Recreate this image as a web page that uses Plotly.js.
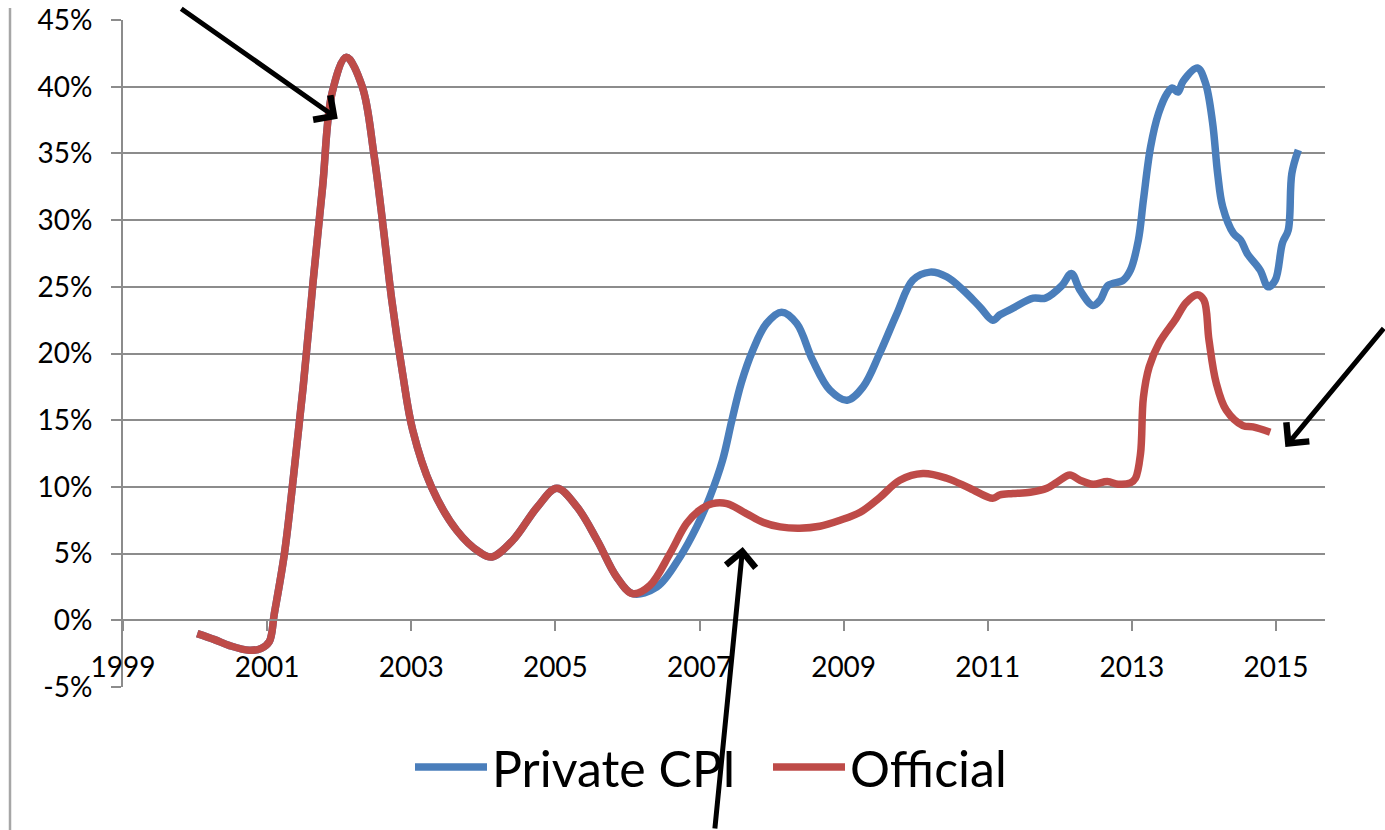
<!DOCTYPE html>
<html>
<head>
<meta charset="utf-8">
<script src="https://cdn.plot.ly/plotly-3.0.1.min.js"></script>
<style>
  html, body { margin: 0; padding: 0; background: #ffffff; }
  #chart { width: 1385px; height: 830px; }
</style>
</head>
<body>
<div id="chart"></div>
<script>
// Annual inflation, percent. Dates are decimal years.
const officialDates = [
  2000.03, 2000.27, 2000.48, 2000.75, 2000.92, 2001.03, 2001.10, 2001.24, 2001.36, 2001.50,
  2001.64, 2001.77, 2001.90, 2002.10, 2002.32, 2002.48, 2002.61, 2002.73, 2002.88, 2003.02,
  2003.28, 2003.63, 2003.95, 2004.12, 2004.41, 2004.75, 2005.02, 2005.30, 2005.58, 2005.85,
  2006.07, 2006.31, 2006.59, 2006.82, 2007.00, 2007.18, 2007.38, 2007.65, 2007.88, 2008.12,
  2008.39, 2008.67, 2008.95, 2009.23, 2009.50, 2009.78, 2010.10, 2010.43, 2010.75, 2011.07,
  2011.17, 2011.35, 2011.59, 2011.82, 2011.96, 2012.14, 2012.28, 2012.46, 2012.66, 2012.81,
  2012.98, 2013.05, 2013.12, 2013.16, 2013.24, 2013.38, 2013.61, 2013.75, 2013.91, 2014.00,
  2014.07, 2014.17, 2014.31, 2014.54, 2014.68, 2014.92
];
const officialValues = [
  -1.0, -1.45, -1.9, -2.25, -2.1, -1.6, 0.5, 5.0, 10.5, 17.5,
  25.5, 32.5, 39.5, 42.2, 40.0, 35.0, 29.5, 24.0, 18.5, 14.25,
  10.0, 6.75, 5.1, 4.75, 6.0, 8.5, 9.9, 8.5, 6.0, 3.25,
  2.0, 2.6, 5.0, 7.25, 8.25, 8.75, 8.75, 8.0, 7.35, 7.0,
  6.9, 7.05, 7.5, 8.1, 9.2, 10.5, 11.0, 10.65, 9.9, 9.15,
  9.4, 9.5, 9.6, 9.9, 10.35, 10.9, 10.5, 10.2, 10.4, 10.2,
  10.3, 10.65, 12.5, 16.7, 19.0, 20.8, 22.6, 23.8, 24.4, 24.0,
  21.0, 17.8, 15.75, 14.6, 14.5, 14.1
];

// The private index follows the official one until early 2006.
const privateDates = [
  2000.03, 2000.27, 2000.48, 2000.75, 2000.92, 2001.03, 2001.10, 2001.24, 2001.36, 2001.50,
  2001.64, 2001.77, 2001.90, 2002.10, 2002.32, 2002.48, 2002.61, 2002.73, 2002.88, 2003.02,
  2003.28, 2003.63, 2003.95, 2004.12, 2004.41, 2004.75, 2005.02, 2005.30, 2005.58, 2005.85,
  2006.07, 2006.41, 2006.73, 2006.96, 2007.14, 2007.32, 2007.45, 2007.58, 2007.74, 2007.93,
  2008.14, 2008.35, 2008.57, 2008.81, 2009.05, 2009.27, 2009.50, 2009.74, 2009.96, 2010.20,
  2010.43, 2010.66, 2010.89, 2011.07, 2011.17, 2011.35, 2011.63, 2011.80, 2012.03, 2012.16,
  2012.28, 2012.46, 2012.56, 2012.67, 2012.88, 2012.98, 2013.09, 2013.16, 2013.26, 2013.37,
  2013.49, 2013.56, 2013.64, 2013.71, 2013.91, 2014.02, 2014.12, 2014.19, 2014.26, 2014.41,
  2014.51, 2014.60, 2014.78, 2014.89, 2014.99, 2015.09, 2015.17, 2015.22, 2015.31
];
const privateValues = [
  -1.0, -1.45, -1.9, -2.25, -2.1, -1.6, 0.5, 5.0, 10.5, 17.5,
  25.5, 32.5, 39.5, 42.2, 40.0, 35.0, 29.5, 24.0, 18.5, 14.25,
  10.0, 6.75, 5.1, 4.75, 6.0, 8.5, 9.9, 8.5, 6.0, 3.25,
  2.0, 2.5, 4.75, 7.0, 9.2, 12.0, 15.0, 17.8, 20.25, 22.25,
  23.1, 22.25, 19.5, 17.25, 16.5, 17.5, 20.0, 23.0, 25.5, 26.1,
  25.75, 24.75, 23.5, 22.5, 22.9, 23.4, 24.15, 24.15, 25.1, 26.0,
  24.75, 23.6, 24.0, 25.1, 25.5, 26.25, 28.5, 31.5, 35.5, 38.0,
  39.5, 39.9, 39.6, 40.4, 41.4, 40.3, 37.3, 33.5, 31.0, 29.0,
  28.5, 27.5, 26.25, 25.0, 25.5, 28.3, 29.25, 33.5, 35.25
];

const seriesNames = ['Private CPI', 'Official'];
const seriesColors = ['#4A7EBB', '#BE4B48'];

const yTickValues = [-5, 0, 5, 10, 15, 20, 25, 30, 35, 40, 45];
const xTickValues = [1999, 2001, 2003, 2005, 2007, 2009, 2011, 2013, 2015];

// Page geometry in pixels
const W = 1385, H = 830;
const M = { l: 123, r: 60, t: 20, b: 143 };
const plotW = W - M.l - M.r, plotH = H - M.t - M.b;
const px2paperX = px => (px - M.l) / plotW;
const px2paperY = py => (H - M.b - py) / plotH;

const gridGray = '#8C8C8C';
const font = 'Lato, "Open Sans", sans-serif';
const yMin = -5, yMax = 45;

const traces = [
  { x: privateDates, y: privateValues, name: seriesNames[0], type: 'scatter', mode: 'lines',
    line: { color: seriesColors[0], width: 7.5, shape: 'spline', smoothing: 1 } },
  { x: officialDates, y: officialValues, name: seriesNames[1], type: 'scatter', mode: 'lines',
    line: { color: seriesColors[1], width: 7.5, shape: 'spline', smoothing: 1 } }
];

// Pointer arrows: head at a data location, tail given as a pixel offset
const arrows = [
  { x: 2001.98, y: 37.6, ax: -158, ay: -111 },
  { x: 2015.13, y: 13.0, ax: 112, ay: -120 },
  { x: 2007.60, y: 5.5, ax: -28, ay: 292 }
];

const layout = {
  width: W, height: H,
  margin: M,
  paper_bgcolor: '#ffffff', plot_bgcolor: '#ffffff',
  font: { family: font, color: '#000000', size: 28 },
  showlegend: true,
  legend: {
    orientation: 'h', x: px2paperX(410), xanchor: 'left',
    y: px2paperY(767), yanchor: 'middle',
    font: { family: font, size: 50, color: '#000000' },
    bgcolor: 'rgba(0,0,0,0)', itemwidth: 72,
    entrywidth: 271, entrywidthmode: 'pixels'
  },
  xaxis: {
    range: [1999, 2015.68],
    anchor: 'free', position: (0 - yMin) / (yMax - yMin),
    tickvals: xTickValues, ticktext: xTickValues.map(String),
    showgrid: false, zeroline: false,
    showline: true, linecolor: gridGray, linewidth: 2,
    ticks: 'outside', ticklen: 10, tickwidth: 2, tickcolor: gridGray,
    ticklabelstandoff: 12,
    tickfont: { family: font, size: 28, color: '#000000' }
  },
  yaxis: {
    range: [yMin, yMax],
    tickvals: yTickValues, ticktext: yTickValues.map(v => v + '%'),
    showgrid: true, gridcolor: gridGray, gridwidth: 2,
    zeroline: false,
    showline: true, linecolor: gridGray, linewidth: 2,
    ticks: 'outside', ticklen: 10, tickwidth: 2, tickcolor: gridGray,
    ticklabelstandoff: 13,
    tickfont: { family: font, size: 28, color: '#000000' }
  },
  shapes: [
    { type: 'line', xref: 'paper', yref: 'paper',
      x0: px2paperX(10), x1: px2paperX(10), y0: px2paperY(8), y1: px2paperY(H),
      line: { color: '#A6A6A6', width: 2.5 } }
  ],
  annotations: arrows.map(a => ({
    x: a.x, y: a.y, xref: 'x', yref: 'y', ax: a.ax, ay: a.ay,
    text: '', showarrow: true, arrowhead: 4, arrowsize: 1.15, arrowwidth: 5,
    arrowcolor: '#000000', standoff: 0
  }))
};

Plotly.newPlot('chart', traces, layout, { staticPlot: true, displayModeBar: false });
</script>
</body>
</html>
